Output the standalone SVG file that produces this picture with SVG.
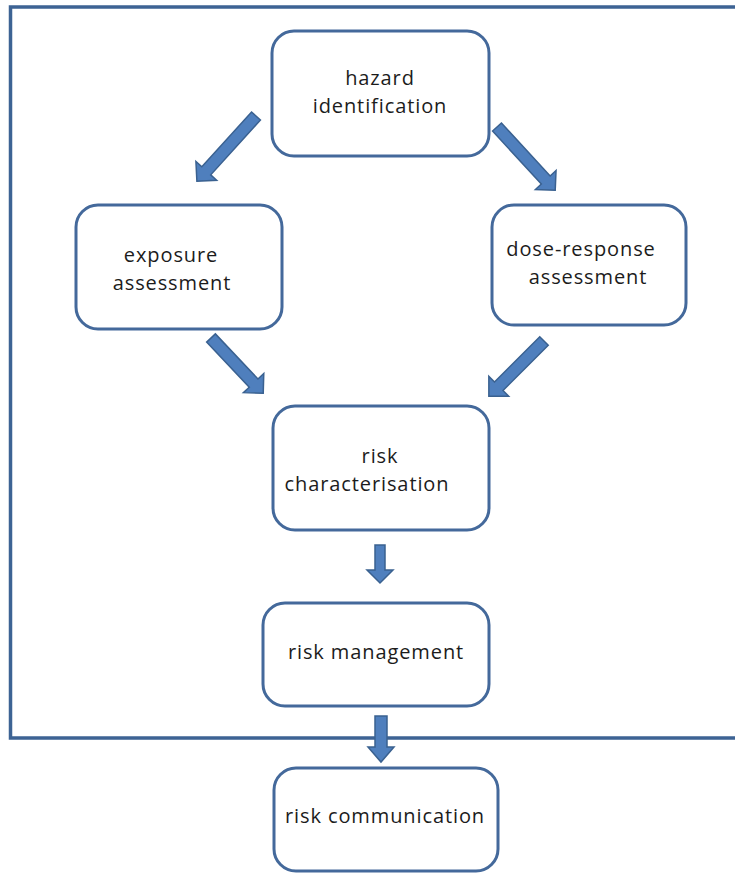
<svg xmlns="http://www.w3.org/2000/svg" width="735" height="875" viewBox="0 0 735 875">
  <style>
    .frame { fill: none; stroke: #3d6394; stroke-width: 3.5; }
    .box { fill: #ffffff; stroke: #44699b; stroke-width: 3; }
    .lbl { font-family: "Open Sans", "Noto Sans", "DejaVu Sans", sans-serif; font-size: 20px; letter-spacing: 0.9px; fill: #1c1c1c; text-anchor: middle; }
    .arrow { fill: #4f7fbd; stroke: #3a6190; stroke-width: 1.5; stroke-linejoin: miter; }
  </style>

  <!-- enclosing frame of the assessment stages (open to the right edge) -->
  <path class="frame" d="M738,7 H10.5 V738 H738"/>

  <g id="hazard-identification">
    <rect class="box" x="272" y="31" width="217" height="125" rx="22"/>
    <text class="lbl" x="380" y="85">hazard</text>
    <text class="lbl" x="380" y="113">identification</text>
  </g>

  <g id="exposure-assessment">
    <rect class="box" x="76" y="205" width="206" height="124" rx="22"/>
    <text class="lbl" x="171" y="262">exposure</text>
    <text class="lbl" x="172" y="290">assessment</text>
  </g>

  <g id="dose-response-assessment">
    <rect class="box" x="492" y="205" width="194" height="120" rx="22"/>
    <text class="lbl" x="581" y="256">dose-response</text>
    <text class="lbl" x="588" y="284">assessment</text>
  </g>

  <g id="risk-characterisation">
    <rect class="box" x="273" y="406" width="216" height="124" rx="22"/>
    <text class="lbl" x="380" y="463">risk</text>
    <text class="lbl" x="367" y="491">characterisation</text>
  </g>

  <g id="risk-management">
    <rect class="box" x="263" y="603" width="226" height="103" rx="22"/>
    <text class="lbl" x="376" y="659">risk management</text>
  </g>

  <g id="risk-communication">
    <rect class="box" x="274" y="768" width="224" height="103" rx="22"/>
    <text class="lbl" x="385" y="823">risk communication</text>
  </g>

  <!-- block arrows: drawn along +x, then placed and rotated -->
  <g id="connectors">
    <polygon class="arrow" transform="translate(256,116) rotate(132.2)" points="0,-6 74,-6 74,-14 88,0 74,14 74,6 0,6"/>
    <polygon class="arrow" transform="translate(497,127) rotate(47.4)" points="0,-6 72,-6 72,-14 86,0 72,14 72,6 0,6"/>
    <polygon class="arrow" transform="translate(211,338) rotate(46.6)" points="0,-6 62,-6 62,-14 76,0 62,14 62,6 0,6"/>
    <polygon class="arrow" transform="translate(544,341) rotate(135)" points="0,-6 64,-6 64,-14 78,0 64,14 64,6 0,6"/>
    <polygon class="arrow" transform="translate(380,545) rotate(90)" points="0,-5 25,-5 25,-13 38,0 25,13 25,5 0,5"/>
    <polygon class="arrow" transform="translate(381,716) rotate(90)" points="0,-6 31,-6 31,-13 46,0 31,13 31,6 0,6"/>
  </g>
</svg>
